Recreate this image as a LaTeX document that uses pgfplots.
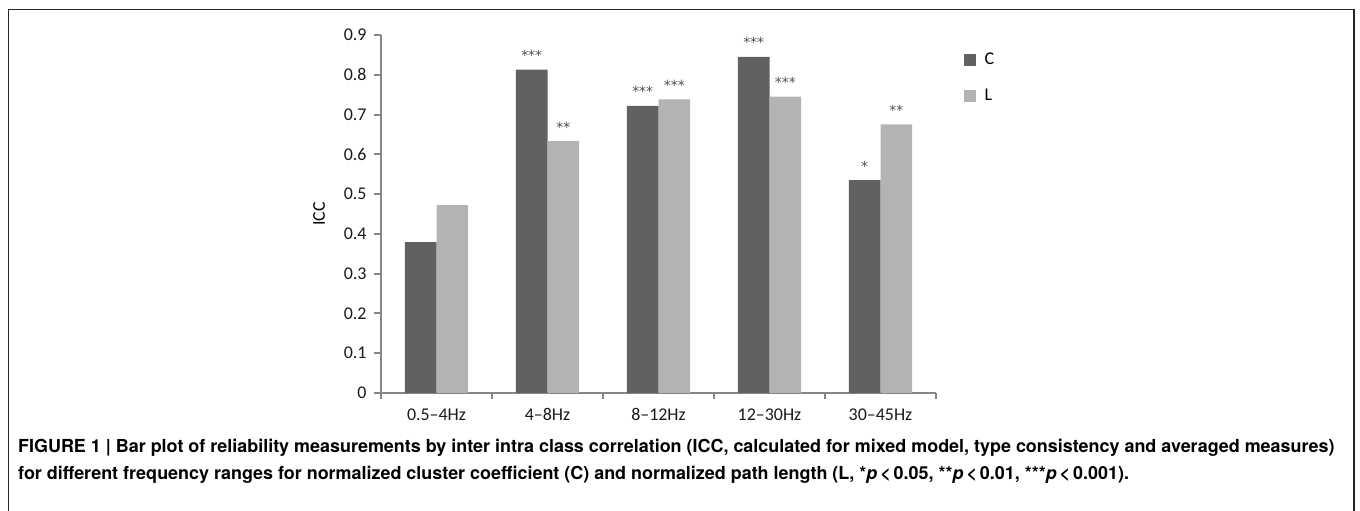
\documentclass[border=0pt]{standalone}
\usepackage{pgfplots}
\pgfplotsset{compat=1.18}
\usepackage{pgfplotstable}
\usepackage{fontspec}
\setmainfont{Carlito}
\newfontfamily\capfont{TeX Gyre Heros}
\newfontfamily\starfont{DejaVu Sans}
\definecolor{cdark}{RGB}{96,97,96}
\definecolor{clight}{RGB}{179,179,179}
\definecolor{caxis}{RGB}{134,134,134}
\definecolor{cstar}{RGB}{80,80,80}

\pgfplotstableread{
x y lab
0 0.379 {}
1 0.813 ***
2 0.722 ***
3 0.845 ***
4 0.535 *
}\dataC
\pgfplotstableread{
x y lab
0 0.472 {}
1 0.633 **
2 0.738 ***
3 0.745 ***
4 0.675 **
}\dataL

\begin{document}
\begin{tikzpicture}[x=1bp,y=1bp]
\useasboundingbox (0,0) rectangle (1360,511);
\draw[line width=1.3bp, color=black!85] (8.5,-2) -- (8.5,501.5) -- (1354,501.5) -- (1354,-2);
\begin{axis}[
  at={(381bp,118bp)}, anchor=south west,
  scale only axis, width=555bp, height=358bp,
  xmin=-0.5, xmax=4.5, ymin=0, ymax=0.9,
  axis x line=bottom, axis y line=left,
  axis line style={-, color=caxis, line width=2bp},
  tick align=outside,
  xtick={0,1,2,3,4},
  xticklabels={0.5--4Hz,4--8Hz,8--12Hz,12--30Hz,30--45Hz},
  major x tick style={draw=none},
  minor xtick={-0.5,0.5,1.5,2.5,3.5,4.5},
  minor tick length=6bp,
  minor x tick style={color=caxis, line width=2bp},
  ytick={0,0.1,0.2,0.3,0.4,0.5,0.6,0.7,0.8,0.9},
  yticklabels={0,0.1,0.2,0.3,0.4,0.5,0.6,0.7,0.8,0.9},
  major tick length=7bp,
  major y tick style={color=caxis, line width=2bp},
  tick label style={font=\fontsize{18}{20}\selectfont, color=black!90},
  /pgf/number format/assume math mode=true,
  yticklabel style={xshift=-4bp},
  xticklabel style={yshift=-5bp},
  ylabel={ICC},
  ylabel style={font=\fontsize{18}{20}\selectfont, yshift=12bp},
  bar width=0.285,
  nodes near coords,
  point meta=explicit symbolic,
  every node near coord/.append style={font=\starfont\fontsize{14}{16}\selectfont, color=cstar, anchor=base, yshift=9bp, inner sep=0pt},
  legend style={at={(1,1)}, anchor=north west, xshift=28bp, yshift=-16bp, draw=none, fill=none,
    font=\fontsize{18}{20}\selectfont, row sep=19bp, inner sep=0pt,
    /tikz/every odd column/.append style={column sep=7bp}},
  legend cell align=left,
  clip=false,
]
\addplot[ybar, bar shift=-0.1425, fill=cdark, draw=none,
  every node near coord/.append style={xshift=-15.8bp},
  legend image code/.code={\fill[cdark] (0bp,-5.75bp) rectangle (11.5bp,5.75bp);}]
  table[x=x, y=y, meta=lab] {\dataC};
\addlegendentry{C}
\addplot[ybar, bar shift=0.1425, fill=clight, draw=none,
  every node near coord/.append style={xshift=15.8bp},
  legend image code/.code={\fill[clight] (0bp,-5.75bp) rectangle (11.5bp,5.75bp);}]
  table[x=x, y=y, meta=lab] {\dataL};
\addlegendentry{L}
\end{axis}
\node[anchor=base west, inner sep=0pt, font=\capfont\bfseries\fontsize{18}{20}\selectfont] at (18,58.5)
  {FIGURE 1 | Bar plot of reliability measurements by inter intra class correlation (ICC, calculated for mixed model, type consistency and averaged measures)};
\node[anchor=base west, inner sep=0pt, font=\capfont\bfseries\fontsize{18}{20}\selectfont] at (18,31.5)
  {for different frequency ranges for normalized cluster coefficient (C) and normalized path length (L, *\textit{p}\,<\,0.05, **\textit{p}\,<\,0.01, ***\textit{p}\,<\,0.001).};
\end{tikzpicture}
\end{document}
